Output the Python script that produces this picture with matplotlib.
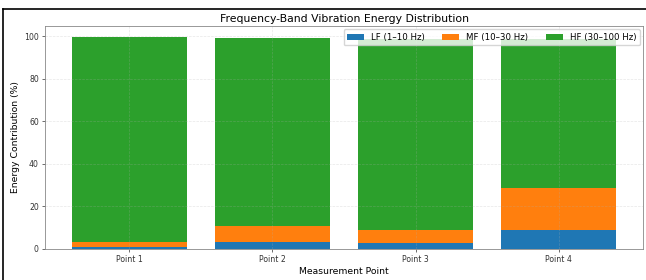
import numpy as np
import matplotlib.pyplot as plt
from matplotlib.lines import Line2D

# Data
points = ["Point 1", "Point 2", "Point 3", "Point 4"]
lf = [0.9, 3.4, 2.6, 8.8]
mf = [2.2, 7.3, 6.1, 19.7]
hf = [96.7, 88.6, 90.0, 70.0]
band_labels = ["LF (1–10 Hz)", "MF (10–30 Hz)", "HF (30–100 Hz)"]

fig = plt.figure(figsize=(6.46, 2.8), dpi=100)
ax = fig.add_axes([45 / 646, 31 / 280, 598 / 646, 223 / 280])

x = np.arange(len(points))
lf = np.array(lf)
mf = np.array(mf)
hf = np.array(hf)

ax.bar(x, lf, width=0.8, label=band_labels[0], color="#1f77b4")
ax.bar(x, mf, width=0.8, bottom=lf, label=band_labels[1], color="#ff7f0e")
ax.bar(x, hf, width=0.8, bottom=lf + mf, label=band_labels[2], color="#2ca02c")

ax.set_xticks(x)
ax.set_xticklabels(points)
ax.set_title("Frequency-Band Vibration Energy Distribution", fontsize=7.8, pad=3)
ax.set_xlabel("Measurement Point", fontsize=6.7, labelpad=2)
ax.set_ylabel("Energy Contribution (%)", fontsize=6.7, labelpad=3)
ax.tick_params(labelsize=5.6, length=2.5, width=0.5, pad=2, colors="#333333")
ax.grid(True, linestyle="--", alpha=0.3, linewidth=0.5)
for s in ax.spines.values():
    s.set_linewidth(0.6)
    s.set_color("#888888")

ax.legend(loc="upper right", ncol=3, fontsize=6.2, borderaxespad=0.4,
          handlelength=2.0, columnspacing=2.0, frameon=True)

# black frame around the screenshot
fig.add_artist(Line2D([3 / 646, 1.0], [1 - 9 / 280, 1 - 9 / 280], transform=fig.transFigure,
                      color="black", linewidth=1.2))
fig.add_artist(Line2D([3 / 646, 3 / 646], [0, 1 - 9 / 280], transform=fig.transFigure,
                      color="black", linewidth=1.2))

fig.savefig("out.png", dpi=100)
